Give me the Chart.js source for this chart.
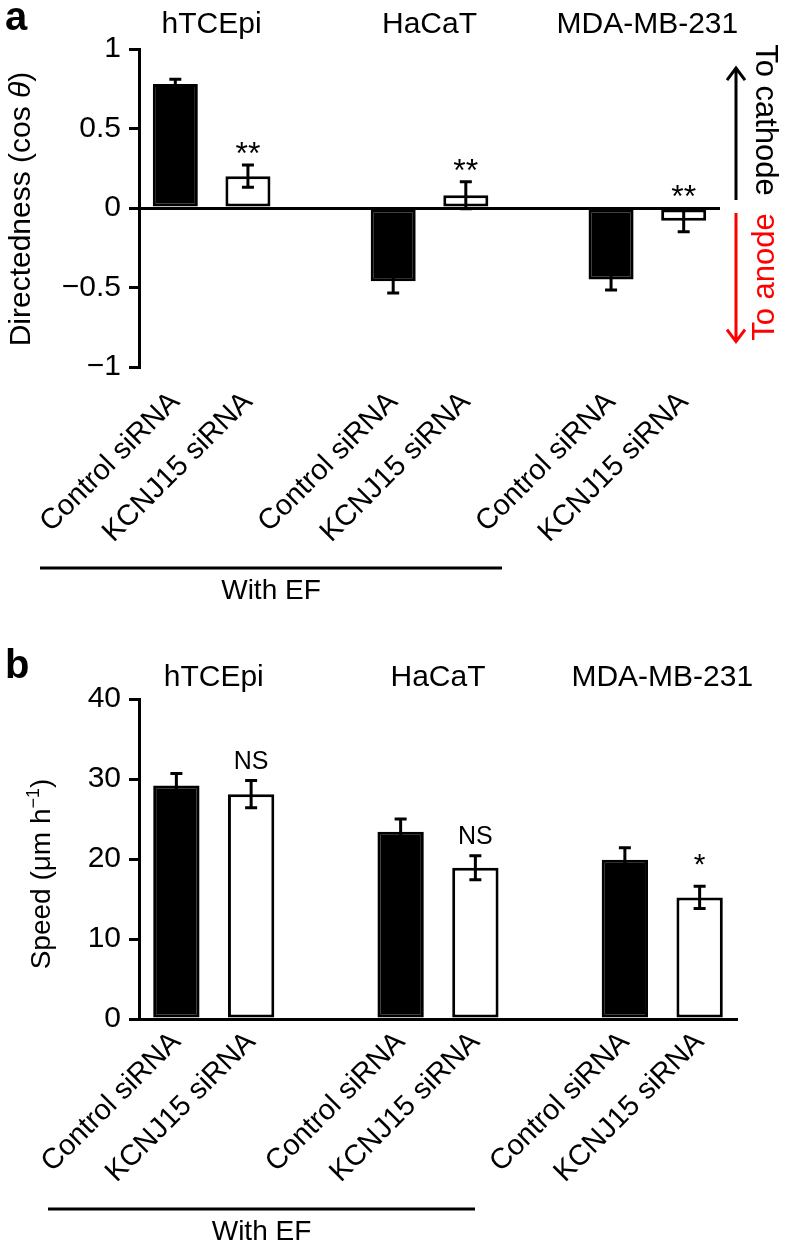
<!DOCTYPE html>
<html>
<head>
<meta charset="utf-8">
<script src="https://cdn.jsdelivr.net/npm/chart.js@4/dist/chart.umd.min.js"></script>
<style>
  body { margin: 0; background: #fff; }
  #wrap { position: relative; width: 786px; height: 1246px; }
  #chartA { position: absolute; left: 0; top: 0; }
  #chartB { position: absolute; left: 0; top: 625px; }
</style>
</head>
<body>
<div id="wrap">
  <canvas id="chartA" width="786" height="625"></canvas>
  <canvas id="chartB" width="786" height="621"></canvas>
</div>
<script>
// categorias (slots vazios separam as linhagens)
const categorias = ['Control siRNA', 'KCNJ15 siRNA', '', 'Control siRNA', 'KCNJ15 siRNA', '', 'Control siRNA', 'KCNJ15 siRNA'];
const linhagens = ['hTCEpi', 'HaCaT', 'MDA-MB-231'];

// painel a - directedness (cos θ)
const directedness = [0.78, 0.20, null, -0.46, 0.08, null, -0.45, -0.08];
const directednessErro = [0.03, 0.07, null, 0.075, 0.085, null, 0.065, 0.07];
const directednessSig = ['', '**', '', '', '**', '', '', '**'];
const ticksDirectedness = [-1, -0.5, 0, 0.5, 1];

// painel b - speed (µm/h)
const speed = [29.2, 28.1, null, 23.4, 18.9, null, 19.9, 15.2];
const speedErro = [1.5, 1.7, null, 1.6, 1.5, null, 1.5, 1.4];
const speedSig = ['', 'NS', '', '', 'NS', '', '', '*'];
const ticksSpeed = [0, 10, 20, 30, 40];

const FONTE = '"Liberation Sans", Arial, Helvetica, sans-serif';

function formatarTick(v) {
  return v < 0 ? '\u2212' + Math.abs(v) : String(v);
}

function corBarra(lista) {
  return lista.map(c => c.startsWith('Control') ? '#000' : '#fff');
}

// === PLUGIN: barras de erro, asteriscos, titulos ===
const decoracao = {
  id: 'decoracao',
  afterDatasetsDraw(chart, args, opts) {
    const { ctx } = chart;
    const x = chart.scales.x, y = chart.scales.y;
    const valores = chart.data.datasets[0].data;
    const meta = chart.getDatasetMeta(0);

    ctx.save();
    ctx.strokeStyle = '#000';
    ctx.lineWidth = 3;
    ctx.lineCap = 'butt';

    valores.forEach((v, i) => {
      if (v == null || opts.erros[i] == null) return;
      const cx = meta.data[i].x;
      const yTop = y.getPixelForValue(v + opts.erros[i]);
      const yBot = y.getPixelForValue(v - opts.erros[i]);
      ctx.beginPath();
      ctx.moveTo(cx, yTop); ctx.lineTo(cx, yBot);
      ctx.moveTo(cx - 6, yTop); ctx.lineTo(cx + 6, yTop);
      ctx.moveTo(cx - 6, yBot); ctx.lineTo(cx + 6, yBot);
      ctx.stroke();

      const sig = opts.sig[i];
      if (sig) {
        ctx.fillStyle = '#000';
        ctx.font = (opts.fonteSig[sig] || '30px') + ' ' + FONTE;
        ctx.textAlign = 'center';
        ctx.textBaseline = 'alphabetic';
        const topo = y.getPixelForValue(Math.max(0, v + opts.erros[i]));
        ctx.fillText(sig, cx, topo - opts.offsetSig);
      }
    });

    // nomes das linhagens
    ctx.fillStyle = '#000';
    ctx.font = '30px ' + FONTE;
    ctx.textAlign = 'center';
    ctx.textBaseline = 'middle';
    linhagens.forEach((nome, g) => {
      const c = (x.getPixelForValue(g * 3) + x.getPixelForValue(g * 3 + 1)) / 2;
      ctx.fillText(nome, c, opts.yTitulos);
    });

    // letra do painel
    ctx.font = 'bold 40px ' + FONTE;
    ctx.textAlign = 'left';
    ctx.textBaseline = 'alphabetic';
    ctx.fillText(opts.letra, 5, opts.yLetra);

    // barra "With EF"
    ctx.lineWidth = 3;
    ctx.beginPath();
    ctx.moveTo(opts.ef[0], opts.ef[2]);
    ctx.lineTo(opts.ef[1], opts.ef[2]);
    ctx.stroke();
    ctx.font = '28px ' + FONTE;
    ctx.textAlign = 'center';
    ctx.textBaseline = 'middle';
    ctx.fillText('With EF', (opts.ef[0] + opts.ef[1]) / 2, opts.ef[2] + 23);

    // titulo do eixo y
    ctx.save();
    ctx.translate(opts.tituloY.x, opts.tituloY.y);
    ctx.rotate(-Math.PI / 2);
    ctx.textAlign = 'left';
    ctx.textBaseline = 'alphabetic';
    const partes = opts.tituloY.partes;
    let total = 0;
    partes.forEach(p => { ctx.font = p.f + ' ' + FONTE; p.w = ctx.measureText(p.t).width; total += p.w; });
    let px = -total / 2;
    partes.forEach(p => {
      ctx.font = p.f + ' ' + FONTE;
      ctx.fillText(p.t, px, p.dy || 0);
      px += p.w;
    });
    ctx.restore();

    ctx.restore();
  }
};

// setas cathode / anode (so painel a)
const setas = {
  id: 'setas',
  afterDraw(chart) {
    const { ctx } = chart;
    const y = chart.scales.y;
    const ax = 736;
    const desenhar = (y0, y1, cor) => {
      const dir = y1 < y0 ? 1 : -1;
      ctx.strokeStyle = cor;
      ctx.lineWidth = 3;
      ctx.beginPath();
      ctx.moveTo(ax, y0); ctx.lineTo(ax, y1);
      ctx.moveTo(ax - 9, y1 + dir * 12); ctx.lineTo(ax, y1); ctx.lineTo(ax + 9, y1 + dir * 12);
      ctx.stroke();
    };
    ctx.save();
    desenhar(y.getPixelForValue(0) - 8, y.getPixelForValue(0.88), '#000');
    desenhar(y.getPixelForValue(0) + 5, y.getPixelForValue(-0.84), '#f00');

    ctx.font = '31px ' + FONTE;
    ctx.textAlign = 'center';
    ctx.textBaseline = 'middle';
    ctx.save();
    ctx.translate(765, 120);
    ctx.rotate(Math.PI / 2);
    ctx.fillStyle = '#000';
    ctx.fillText('To cathode', 0, 0);
    ctx.restore();
    ctx.save();
    ctx.translate(765, 277);
    ctx.rotate(-Math.PI / 2);
    ctx.fillStyle = '#f00';
    ctx.fillText('To anode', 0, 0);
    ctx.restore();
    ctx.restore();
  }
};

function criarGrafico(id, cfg) {
  return new Chart(document.getElementById(id), {
    type: 'bar',
    data: {
      labels: categorias,
      datasets: [{
        data: cfg.valores,
        backgroundColor: corBarra(categorias),
        borderColor: '#000',
        borderWidth: 3,
        borderSkipped: false,
        barPercentage: 0.62,
        categoryPercentage: 1
      }]
    },
    options: {
      responsive: false,
      animation: false,
      layout: { padding: cfg.padding },
      plugins: {
        legend: { display: false },
        tooltip: { enabled: false },
        decoracao: cfg.decor
      },
      scales: {
        x: {
          grid: { display: false, drawTicks: false },
          border: cfg.bordaX,
          afterFit: s => { s.height = cfg.alturaX; },
          ticks: {
            autoSkip: false,
            minRotation: 45,
            maxRotation: 45,
            padding: cfg.paddingX,
            color: '#000',
            font: { size: 29, family: FONTE }
          }
        },
        y: {
          min: cfg.ticks[0],
          max: cfg.ticks[cfg.ticks.length - 1],
          afterFit: s => { s.width = 139; },
          afterBuildTicks: s => { s.ticks = cfg.ticks.map(v => ({ value: v })); },
          border: { display: true, color: '#000', width: 3 },
          grid: cfg.gridY,
          ticks: {
            padding: 8,
            color: '#000',
            font: { size: 30, family: FONTE },
            callback: formatarTick
          }
        }
      }
    },
    plugins: cfg.plugins
  });
}

criarGrafico('chartA', {
  valores: directedness,
  ticks: ticksDirectedness,
  padding: { top: 49, right: 66, bottom: 0, left: 0 },
  alturaX: 258,
  paddingX: 18,
  bordaX: { display: false },
  gridY: {
    color: c => (c.tick && c.tick.value === 0 ? '#000' : 'rgba(0,0,0,0)'),
    tickColor: '#000',
    lineWidth: 3,
    tickLength: 10,
    drawOnChartArea: true
  },
  decor: {
    erros: directednessErro,
    sig: directednessSig,
    fonteSig: { '**': '32px' },
    offsetSig: 1,
    yTitulos: 25,
    letra: 'a',
    yLetra: 30,
    ef: [40, 502, 568],
    tituloY: {
      x: 30, y: 209,
      partes: [{ t: 'Directedness (cos ', f: '30px' }, { t: '\u03b8', f: 'italic 30px' }, { t: ')', f: '30px' }]
    }
  },
  plugins: [decoracao, setas]
});

criarGrafico('chartB', {
  valores: speed,
  ticks: ticksSpeed,
  padding: { top: 74, right: 49, bottom: 0, left: 0 },
  alturaX: 227,
  paddingX: 6,
  bordaX: { display: true, color: '#000', width: 3 },
  gridY: {
    color: '#000',
    lineWidth: 3,
    tickLength: 10,
    drawOnChartArea: false
  },
  decor: {
    erros: speedErro,
    sig: speedSig,
    fonteSig: { 'NS': '25px', '*': '30px' },
    offsetSig: 12,
    yTitulos: 53,
    letra: 'b',
    yLetra: 53,
    ef: [48, 475, 584],
    tituloY: {
      x: 50, y: 249,
      partes: [{ t: 'Speed (\u03bcm h', f: '28px' }, { t: '\u22121', f: '18px', dy: -11 }, { t: ')', f: '28px' }]
    }
  },
  plugins: [decoracao]
});
</script>
</body>
</html>
